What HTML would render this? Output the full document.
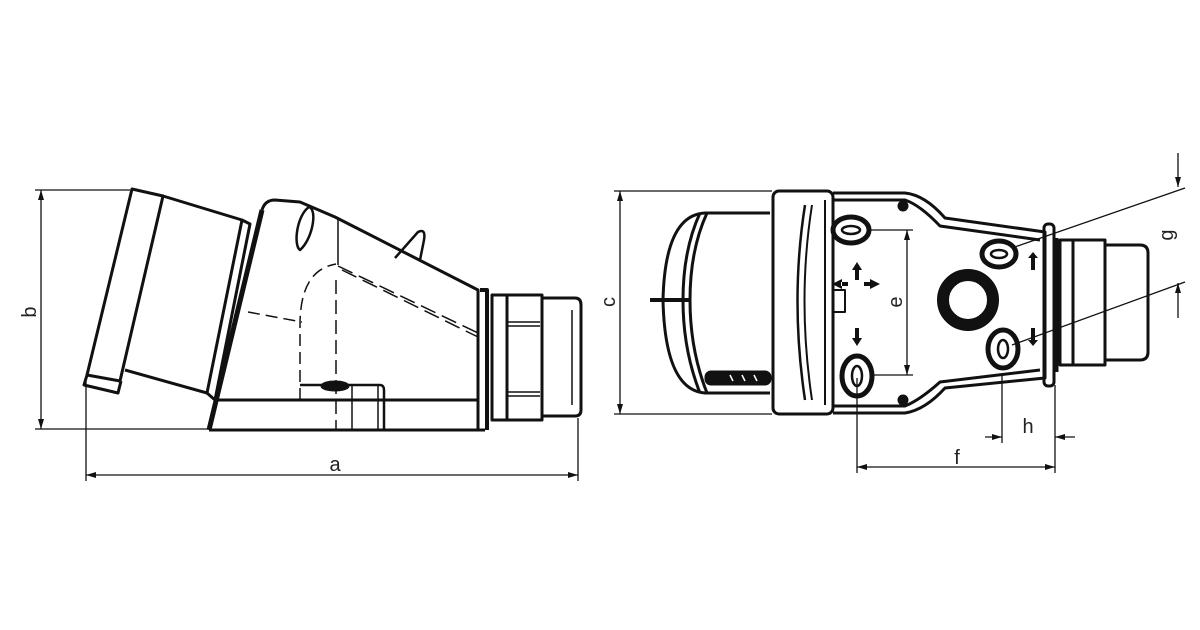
<!DOCTYPE html>
<html><head><meta charset="utf-8"><style>
html,body{margin:0;padding:0;background:#fff;}
svg{display:block}
text{font-family:"Liberation Sans",sans-serif;font-size:20px;fill:#222}
</style></head><body>
<svg width="1200" height="630" viewBox="0 0 1200 630" xmlns="http://www.w3.org/2000/svg">
<defs>
<marker id="ar" viewBox="0 0 10 6" refX="10" refY="3" markerWidth="10" markerHeight="6" orient="auto-start-reverse" markerUnits="userSpaceOnUse"><path d="M0,0 L10,3 L0,6z" fill="#111"/></marker>
</defs>
<g stroke="#111" fill="none" stroke-width="1.3">
<line x1="35" y1="190" x2="130" y2="190"/>
<line x1="35" y1="429" x2="208" y2="429"/>
<line x1="41" y1="190" x2="41" y2="429" marker-start="url(#ar)" marker-end="url(#ar)"/>
<line x1="86" y1="382" x2="86" y2="481"/>
<line x1="578" y1="418" x2="578" y2="481"/>
<line x1="86" y1="475" x2="578" y2="475" marker-start="url(#ar)" marker-end="url(#ar)"/>
<line x1="614" y1="191" x2="772" y2="191"/>
<line x1="614" y1="414" x2="772" y2="414"/>
<line x1="620" y1="191" x2="620" y2="414" marker-start="url(#ar)" marker-end="url(#ar)"/>
<line x1="870" y1="230" x2="913" y2="230"/>
<line x1="870" y1="375" x2="913" y2="375"/>
<line x1="907" y1="230" x2="907" y2="375" marker-start="url(#ar)" marker-end="url(#ar)"/>
<line x1="857" y1="378" x2="857" y2="473"/>
<line x1="1055" y1="385" x2="1055" y2="473"/>
<line x1="857" y1="467" x2="1055" y2="467" marker-start="url(#ar)" marker-end="url(#ar)"/>
<line x1="1002" y1="375" x2="1002" y2="443"/>
<line x1="985" y1="437" x2="1002" y2="437" marker-end="url(#ar)"/>
<line x1="1075" y1="437" x2="1055" y2="437" marker-end="url(#ar)"/>
<line x1="1012" y1="248" x2="1185" y2="188"/>
<line x1="1012" y1="345" x2="1185" y2="282"/>
<line x1="1178" y1="153" x2="1178" y2="187" marker-end="url(#ar)"/>
<line x1="1178" y1="318" x2="1178" y2="283" marker-end="url(#ar)"/>
</g>
<text x="36" y="312" transform="rotate(-90 36 312)" text-anchor="middle">b</text>
<text x="335" y="471" text-anchor="middle">a</text>
<text x="615" y="302" transform="rotate(-90 615 302)" text-anchor="middle">c</text>
<text x="902" y="302" transform="rotate(-90 902 302)" text-anchor="middle">e</text>
<text x="957" y="464" text-anchor="middle">f</text>
<text x="1028" y="433" text-anchor="middle">h</text>
<text x="1173" y="235" transform="rotate(-90 1173 235)" text-anchor="middle">g</text>

<g stroke="#111" fill="none" stroke-width="3" stroke-linejoin="round">
<path d="M132,189 L163,196 L120,381 L87,375 Z"/>
<path d="M87,375 L84,385 L118,393 L121,381"/>
<path d="M163,196 L242,220 L207,393 L125,370"/>
<path d="M242,220 L250,224 L215,400 L207,393"/>
<line x1="262" y1="210" x2="209" y2="430" stroke-width="5"/>
<path d="M262,210 Q265,200 275,200 L300,202 L335,217 L478,290 L478,430"/>
<path d="M309,207 C318,210 312,240 300,250 C293,245 297,215 309,207 Z" stroke-width="2.5"/>
<path d="M395,258 L418,232 Q426,228 424,240 L420,260" stroke-width="2.5"/>
<path d="M216,400 L478,400"/>
<path d="M209,430 L485,430"/>
<path d="M480,290 L487,290 L487,430" stroke-width="4"/>
<path d="M492,295 L542,295 L542,420 L492,420 Z"/>
<path d="M542,298 L575,298 Q581,298 581,305 L581,410 Q581,416 575,416 L542,416"/>
<line x1="507" y1="295" x2="507" y2="420"/>
<line x1="572" y1="310" x2="572" y2="405" stroke-width="1.5"/>
<g stroke-width="1.5"><line x1="508" y1="322" x2="540" y2="322"/><line x1="508" y1="326" x2="540" y2="326"/><line x1="508" y1="392" x2="540" y2="392"/><line x1="508" y1="396" x2="540" y2="396"/></g>
<path d="M300,385 L380,385 Q384,385 384,390 L384,430" stroke-width="2.5"/>
<ellipse cx="335" cy="386" rx="13" ry="4" fill="#111"/>
</g>
<g stroke="#111" fill="none" stroke-width="1.5">
<line x1="338" y1="218" x2="338" y2="265"/>
<line x1="336" y1="280" x2="336" y2="430" stroke-dasharray="14,6"/>
<path d="M300,400 L300,325 Q300,270 336,264" stroke-dasharray="12,6"/>
<line x1="248" y1="312" x2="302" y2="322" stroke-dasharray="12,6"/>
<line x1="338" y1="266" x2="478" y2="333" stroke-dasharray="16,7"/>
<line x1="342" y1="270" x2="478" y2="337" stroke-dasharray="16,7"/>
<line x1="352" y1="385" x2="352" y2="430"/>
<line x1="378" y1="385" x2="378" y2="430"/>
</g>

<g stroke="#111" fill="none" stroke-width="3" stroke-linejoin="round">
<path d="M770,213 L705,213 Q665,215 663,300 Q665,390 705,393 L770,393"/>
<path d="M700,213 Q683,250 683,300 Q683,350 700,393"/>
<path d="M707,213 Q690,250 690,300 Q690,350 707,393"/>
<line x1="650" y1="300" x2="690" y2="300" stroke-width="4"/>
<rect x="705" y="371" width="66" height="14" rx="6" fill="#111" stroke-width="1"/>
<rect x="773" y="191" width="60" height="223" rx="6"/>
<path d="M833,193 L905,193 Q925,195 945,218 L1045,232 L1045,378 L945,388 Q925,410 905,413 L833,413"/>
<path d="M833,200 L905,200 Q920,205 940,226 L1040,240"/>
<path d="M833,406 L905,406 Q920,400 940,382 L1040,370"/>
<path d="M805,205 Q790,300 805,400" stroke-width="2.5"/>
<path d="M812,205 Q797,300 812,400" stroke-width="2"/>
<line x1="825" y1="200" x2="825" y2="405" stroke-width="2"/>
<rect x="1044" y="224" width="10" height="162" rx="4"/>
<line x1="1056" y1="238" x2="1056" y2="372" stroke-width="5"/>
<path d="M1060,240 L1105,240 L1105,365 L1060,365 Z"/>
<path d="M1105,245 L1140,245 Q1148,245 1148,253 L1148,352 Q1148,360 1140,360 L1105,360"/>
<line x1="1073" y1="240" x2="1073" y2="365"/>
<ellipse cx="851" cy="230" rx="18" ry="13" stroke-width="5"/>
<ellipse cx="851" cy="230" rx="9" ry="4" stroke-width="2.5"/>
<ellipse cx="857" cy="376" rx="15" ry="20" stroke-width="5"/>
<ellipse cx="857" cy="376" rx="5" ry="10" stroke-width="2.5"/>
<ellipse cx="999" cy="254" rx="17" ry="13" stroke-width="5"/>
<ellipse cx="999" cy="254" rx="8" ry="4" stroke-width="2.5"/>
<ellipse cx="1003" cy="349" rx="15" ry="19" stroke-width="5"/>
<ellipse cx="1003" cy="349" rx="5" ry="9" stroke-width="2.5"/>
<circle cx="968" cy="300" r="25" stroke-width="12"/>
<circle cx="903" cy="206" r="4" fill="#111"/>
<circle cx="903" cy="400" r="4" fill="#111"/>
<rect x="833" y="290" width="12" height="22" stroke-width="2"/>
</g>
<g stroke="#fff" stroke-width="1.5"><line x1="730" y1="375" x2="733" y2="381"/><line x1="742" y1="375" x2="745" y2="381"/><line x1="754" y1="375" x2="757" y2="381"/></g>
<g fill="#111">
<path d="M852,270 L857,262 L862,270 L859,270 L859,280 L855,280 L855,270Z"/>
<path d="M852,338 L857,346 L862,338 L859,338 L859,328 L855,328 L855,338Z"/>
<path d="M870,279 L880,284 L870,289Z M864,282 h7 v4 h-7z"/>
<path d="M842,279 L832,284 L842,289Z M841,282 h7 v4 h-7z"/>
<path d="M1028,258 L1033,252 L1038,258 L1035,258 L1035,270 L1031,270 L1031,258Z"/>
<path d="M1028,340 L1033,346 L1038,340 L1035,340 L1035,328 L1031,328 L1031,340Z"/>
</g>
</svg>
</body></html>
